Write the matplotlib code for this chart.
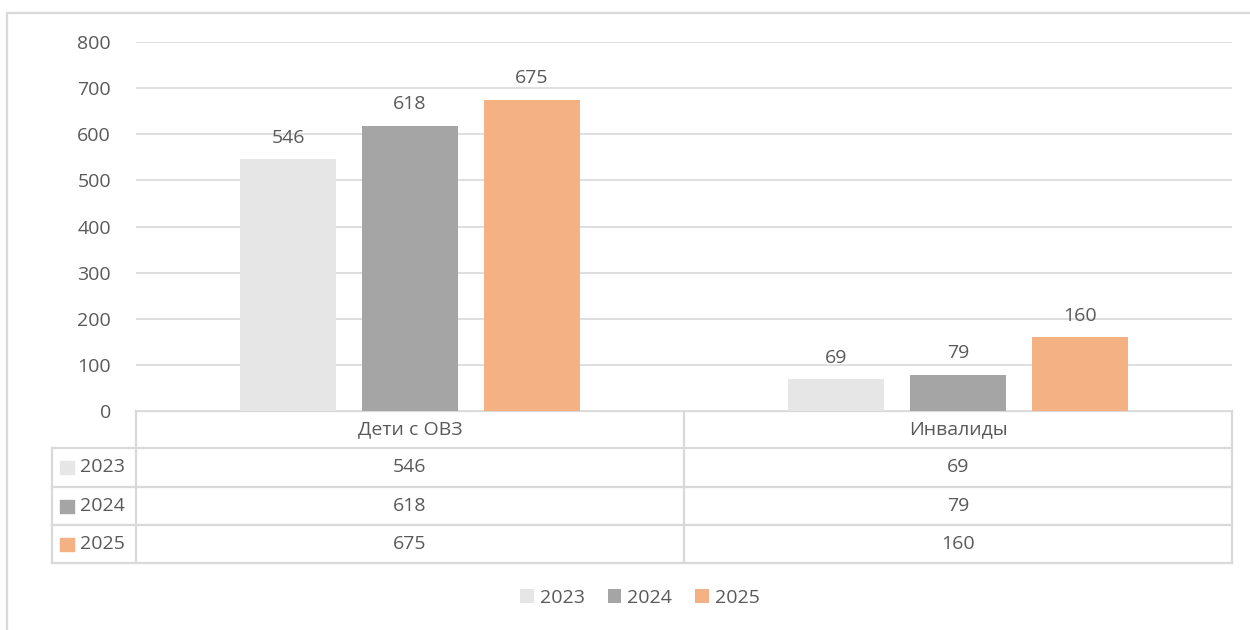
import matplotlib.pyplot as plt
import numpy as np
from matplotlib.lines import Line2D
from matplotlib.patches import Rectangle

categories = ['Дети с ОВЗ', 'Инвалиды']
years = ['2023', '2024', '2025']
values_2023 = [546, 69]
values_2024 = [618, 79]
values_2025 = [675, 160]
series = [values_2023, values_2024, values_2025]
colors = ['#e7e6e6', '#a5a5a5', '#f4b183']
y_ticks = [0, 100, 200, 300, 400, 500, 600, 700, 800]

plt.rcParams['font.family'] = ['Open Sans', 'DejaVu Sans']
txt = '#595959'
grid_c = '#d9d9d9'
fs = 14

W, H = 1250, 630
fig = plt.figure(figsize=(W / 100, H / 100), dpi=100)


def fx(px):
    return px / W


def fy(py):
    return 1 - py / H


# plot area in pixel layout
left, right, top, bottom = 136, 1232, 42, 411
ax = fig.add_axes([fx(left), fy(bottom), fx(right - left), fy(top) - fy(bottom)])

x = np.arange(len(categories))
bw = 0.175
step = 0.222
for i, (vals, col, yr) in enumerate(zip(series, colors, years)):
    pos = x + (i - 1) * step
    bars = ax.bar(pos, vals, width=bw, color=col, label=yr, zorder=3)
    for b, v in zip(bars, vals):
        ax.annotate(str(v), (b.get_x() + b.get_width() / 2, v), xytext=(0, 9),
                    textcoords='offset points', ha='center', va='bottom',
                    fontsize=fs, color=txt)

ax.set_xlim(-0.5, len(categories) - 0.5)
ax.set_ylim(0, 800)
ax.set_yticks(y_ticks)
ax.yaxis.grid(True, color=grid_c, lw=1.2, zorder=0)
ax.set_xticks([])
ax.tick_params(axis='y', length=0, pad=18, labelsize=fs, labelcolor=txt)
for s in ax.spines.values():
    s.set_visible(False)

# overlay axes in pixel coordinates for the data table and border
ov = fig.add_axes([0, 0, 1, 1], zorder=-1)
ov.set_xlim(0, W)
ov.set_ylim(H, 0)
ov.axis('off')

lw = 1.6
ov.add_line(Line2D([7, W], [13, 13], color=grid_c, lw=lw))
ov.add_line(Line2D([7, 7], [13, H], color=grid_c, lw=lw))

rows = [411, 448, 487, 525, 563]
tl, tr = 52, right
mid = (left + right) / 2
ov.add_line(Line2D([left, tr], [rows[0], rows[0]], color=grid_c, lw=lw))
for r in rows[1:]:
    ov.add_line(Line2D([tl, tr], [r, r], color=grid_c, lw=lw))
ov.add_line(Line2D([tl, tl], [rows[1], rows[-1]], color=grid_c, lw=lw))
for vx in [left, mid, tr]:
    ov.add_line(Line2D([vx, vx], [rows[0], rows[-1]], color=grid_c, lw=lw))

cell_centers = [(left + mid) / 2, (mid + right) / 2]
for c, name in zip(cell_centers, categories):
    ov.text(c, (rows[0] + rows[1]) / 2, name, ha='center', va='center',
            fontsize=fs, color=txt)
for i, (vals, col, yr) in enumerate(zip(series, colors, years)):
    ry = (rows[i + 1] + rows[i + 2]) / 2
    ov.add_patch(Rectangle((60, ry - 6.5), 14, 13, color=col))
    ov.text(80, ry, yr, ha='left', va='center', fontsize=fs, color=txt)
    for c, v in zip(cell_centers, vals):
        ov.text(c, ry, str(v), ha='center', va='center', fontsize=fs, color=txt)

handles, labels = ax.get_legend_handles_labels()
fig.legend(handles, labels, loc='center', bbox_to_anchor=(fx(640), fy(598)),
           ncol=3, frameon=False, fontsize=fs, labelcolor=txt,
           handlelength=0.7, handleheight=0.7, handletextpad=0.3,
           columnspacing=1.2)

fig.savefig('out.png', dpi=100)
